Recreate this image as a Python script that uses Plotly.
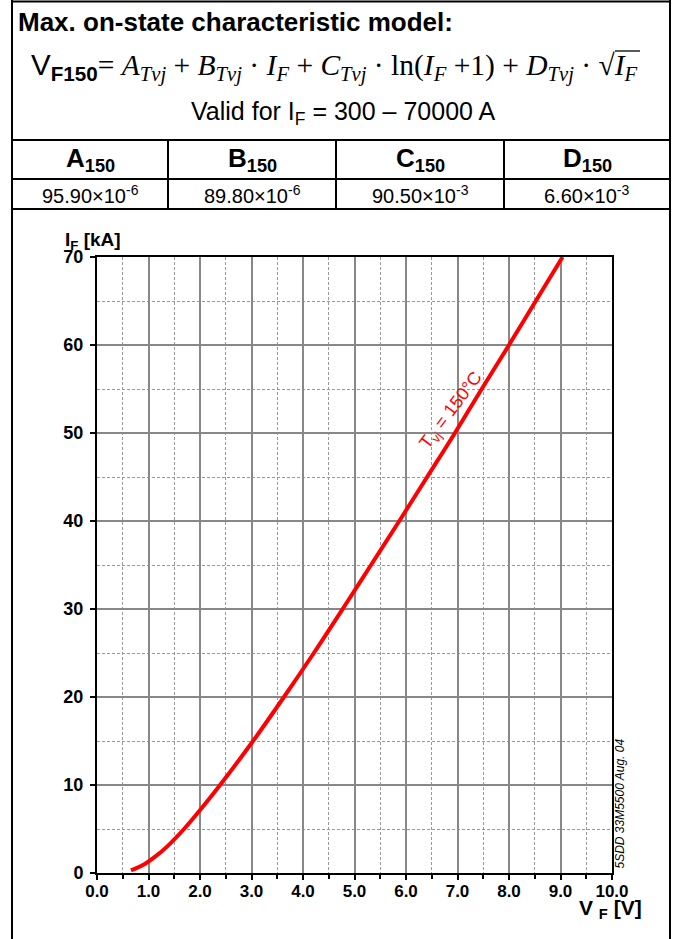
import plotly.graph_objects as go

# ---- data ----
vf_volts = [0.66, 0.92, 1.16, 1.36, 1.69, 2.05, 2.39, 3.03, 3.63, 4.21, 4.77,
            5.32, 5.87, 6.41, 6.95, 7.47, 8.00, 8.52, 9.04]
if_kamps = [0.3, 1, 2, 3, 5, 7.5, 10, 15, 20, 25, 30, 35, 40, 45, 50, 55, 60,
            65, 70]
x_ticks = [0, 1, 2, 3, 4, 5, 6, 7, 8, 9, 10]
x_tick_labels = ["0.0", "1.0", "2.0", "3.0", "4.0", "5.0", "6.0", "7.0", "8.0", "9.0", "10.0"]
y_ticks = [0, 10, 20, 30, 40, 50, 60, 70]
coef_names = ["A", "B", "C", "D"]
coef_mant = ["95.90", "89.80", "90.50", "6.60"]
coef_exp = ["-6", "-6", "-3", "-3"]

W, H = 674, 939
L, R, T, B = 97, 62, 257, 66
PW, PH = W - L - R, H - T - B

SANS = "Liberation Sans, Arial, sans-serif"
SERIF = "Liberation Serif, Times New Roman, serif"


def px(xp):
    return (xp - L) / PW


def py(yp):
    return (H - B - yp) / PH


fig = go.Figure()
fig.add_trace(go.Scatter(x=vf_volts, y=if_kamps, mode="lines",
                         line=dict(color="#ff0000", width=4, shape="spline"),
                         showlegend=False, hoverinfo="skip"))

shapes = []
lw = 2


def hline(y, x0, x1, w=lw):
    shapes.append(dict(type="line", xref="paper", yref="paper", x0=px(x0), x1=px(x1),
                       y0=py(y), y1=py(y), line=dict(color="black", width=w)))


def vline(x, y0, y1):
    shapes.append(dict(type="line", xref="paper", yref="paper", x0=px(x), x1=px(x),
                       y0=py(y0), y1=py(y1), line=dict(color="black", width=lw)))


# outer frame and table grid
vline(12, 0, H)
vline(670, 0, H)
hline(1.5, 12, 670)
hline(140, 12, 670)
hline(179, 12, 670)
hline(209, 12, 670)
for xc in (168, 336, 504):
    vline(xc, 140, 209)
# overline of the square root
hline(51, 615, 640, w=1.3)

ann = []


def text(x, y, s, size, color="black", family=SANS, xanchor="center", angle=0, weight="normal"):
    ann.append(dict(xref="paper", yref="paper", x=px(x), y=py(y), text=s, showarrow=False,
                    xanchor=xanchor, yanchor="middle", textangle=angle,
                    font=dict(size=size, color=color, family=family, weight=weight)))


text(16, 22, "Max. on-state characteristic model:", 26, xanchor="left", weight="bold")

formula = ("<span style=\"font-family:Liberation Sans\">V<sub><b>F150</b></sub></span>= "
           "<i>A<sub>Tvj</sub></i> + <i>B<sub>Tvj</sub></i> · <i>I<sub>F</sub></i> + "
           "<i>C<sub>Tvj</sub></i> · ln(<i>I<sub>F</sub></i> +1) + "
           "<i>D<sub>Tvj</sub></i> · √<i>I<sub>F</sub></i>")
text(334, 67, formula, 29.5, family=SERIF)
text(343, 113, "Valid for I<sub>F</sub> = 300 – 70000 A", 25)

col_centers = [90, 252, 420, 587]
for cx, n, m, e in zip(col_centers, coef_names, coef_mant, coef_exp):
    text(cx, 160, f"<b>{n}<sub>150</sub></b>", 26)
    text(cx, 194, f"{m}×10<sup>{e}</sup>", 20)

text(63, 241, "<b>I<sub>F</sub> [kA]</b>", 19, xanchor="left")
text(610, 909, "<b>V <sub>F</sub> [V]</b>", 21)
text(619.5, 804, "<i>5SDD 33M5500 Aug. 04</i>", 12, angle=-90)
text(451, 411, "T<sub>vj</sub> = 150°C", 18, color="#ff0000", angle=-53)

axis_common = dict(showline=True, linecolor="black", linewidth=2, mirror=True,
                   ticks="outside", ticklen=5, tickcolor="black", tickwidth=1.5,
                   showgrid=True, gridcolor="#888888", gridwidth=2, zeroline=False)

fig.update_layout(
    width=W, height=H, margin=dict(l=L, r=R, t=T, b=B),
    paper_bgcolor="white", plot_bgcolor="white",
    shapes=shapes, annotations=ann,
    xaxis=dict(range=[0, 10], tickvals=x_ticks, ticktext=x_tick_labels,
               ticklabelstandoff=-3,
               tickfont=dict(family=SANS, size=17, color="black", weight="bold"),
               minor=dict(dtick=0.5, showgrid=True, gridcolor="#999999", gridwidth=1,
                          griddash="3px,2px", ticks="outside", ticklen=4, tickcolor="black"),
               **axis_common),
    yaxis=dict(range=[0, 70], tickvals=y_ticks, ticklabelstandoff=3,
               tickfont=dict(family=SANS, size=18, color="black", weight="bold"),
               minor=dict(dtick=5, showgrid=True, gridcolor="#999999", gridwidth=1,
                          griddash="3px,2px"),
               **axis_common),
)

fig.write_html("out.html", config={"displayModeBar": False},
               post_script="document.body.style.margin='0';document.body.style.overflow='hidden';")
